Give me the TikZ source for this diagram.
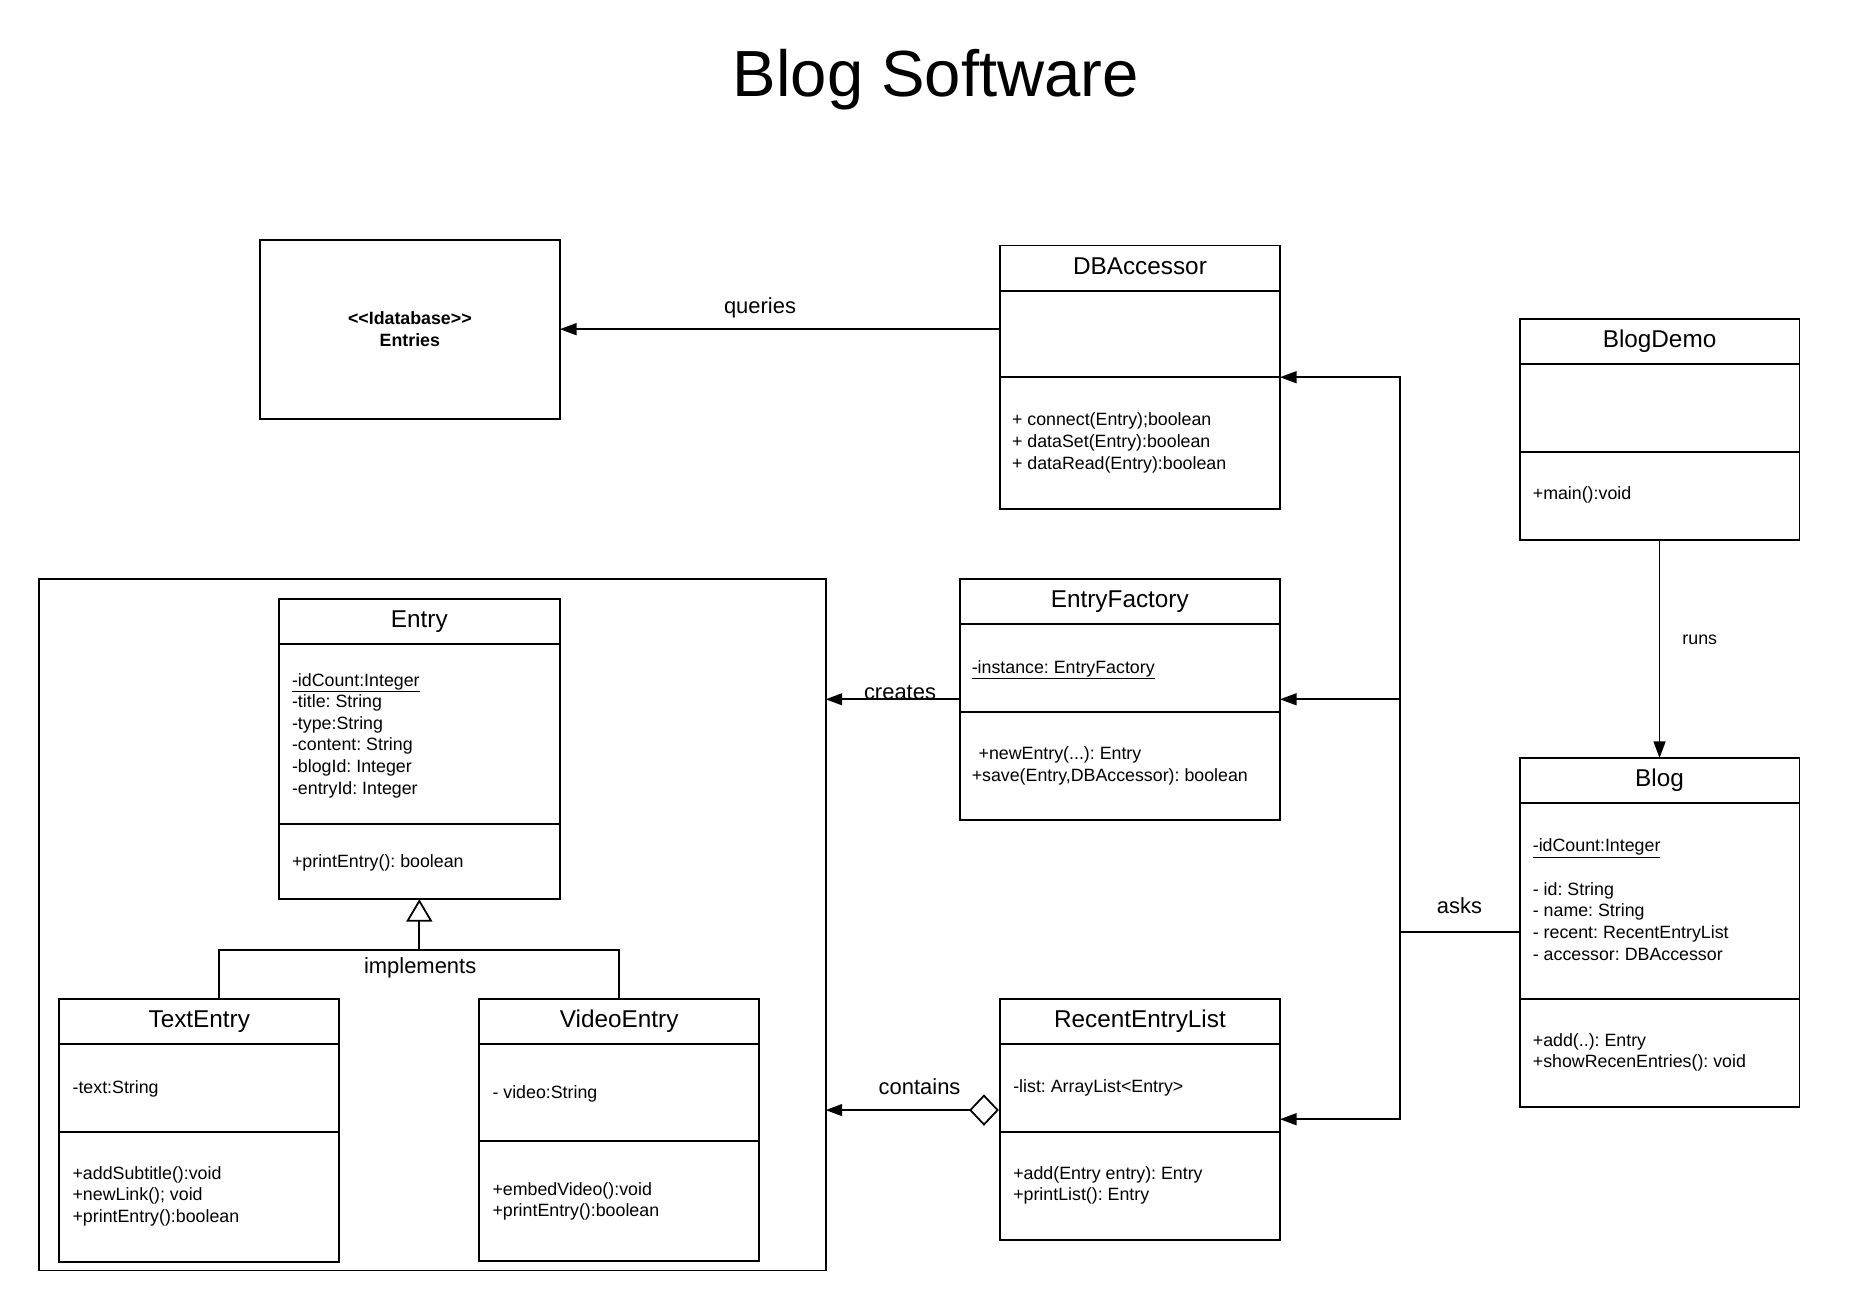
\documentclass[tikz,border=0pt]{standalone}
\usepackage{fontspec}
\setmainfont{Liberation Sans}
\usetikzlibrary{arrows.meta}
\frenchspacing
\tikzset{
  ln/.style={line width=1.6pt},
  cls/.style={draw, line width=1.6pt, inner sep=0pt, outer sep=0pt},
  ctitle/.style={anchor=base, inner sep=0pt, font=\fontsize{20.5}{24}\selectfont},
  txt/.style={anchor=base west, inner sep=0pt, font=\fontsize{15}{18}\selectfont},
  lbl/.style={anchor=base, inner sep=0pt, font=\fontsize{18.5}{22}\selectfont},
  arr/.style={line width=1.5pt, -{Triangle[length=14pt,width=10pt]}},
}
\newcommand\umlclass[7]{%
  \node[cls, minimum width=#4pt, minimum height=#5pt, anchor=north west] (#1) at (#2,#3) {};
  \draw[ln] (#2,#3+38) -- (#2+#4,#3+38);
  \draw[ln] (#2,#6) -- (#2+#4,#6);
  \node[ctitle] (#1-t) at (#2+#4/2,#3+24) {#7};
}
\begin{document}
\frenchspacing
\begin{tikzpicture}[x=1pt,y=-1pt]
\fill[white] (0,0) rectangle (1568,1105);
\useasboundingbox (0,0) rectangle (1568,1105);

% title
\node[anchor=base, inner sep=0pt, font=\fontsize{55}{60}\selectfont] (title) at (789,81.5) {Blog Software};

% database
\node[cls, minimum width=253pt, minimum height=151pt, anchor=north west,
      font=\bfseries\fontsize{15}{18}\selectfont, align=center] (ent) at (219,202)
      {<\kern0pt<Idatabase>\kern0pt>\\Entries};

% package frame
\node[cls, minimum width=663pt, minimum height=583pt, anchor=north west] (pkg) at (33,488) {};

% classes
\umlclass{db}{843}{207}{236}{222}{318}{DBAccessor}
\umlclass{bd}{1281}{269}{236}{186}{381}{BlogDemo}
\umlclass{blog}{1281}{639}{236}{294}{842}{Blog}
\umlclass{ef}{809}{488}{270}{203}{600}{EntryFactory}
\umlclass{rel}{843}{842}{236}{203}{954}{RecentEntryList}
\umlclass{entry}{235}{505}{237}{253}{695}{Entry}
\umlclass{te}{50}{842}{236}{222}{954}{TextEntry}
\umlclass{ve}{404}{842}{236}{221}{962}{VideoEntry}

% DBAccessor
\node[txt] (db1) at (853,359) {+ connect(Entry);boolean};
\node[txt] (db2) at (853,377.5) {+ dataSet(Entry):boolean};
\node[txt] (db3) at (853,395.5) {+ dataRead(Entry):boolean};

% BlogDemo
\node[txt] (bd1) at (1292,421.5) {+main():void};

% Blog
\node[txt] (bl1) at (1292,718) {\underline{-idCount:Integer}};
\node[txt] (bl2) at (1292,754.7) {- id: String};
\node[txt] (bl3) at (1292,773) {- name: String};
\node[txt] (bl4) at (1292,791.3) {- recent: RecentEntryList};
\node[txt] (bl5) at (1292,809.5) {- accessor: DBAccessor};
\node[txt] (bl6) at (1292,882.3) {+add(..): Entry};
\node[txt] (bl7) at (1292,900.3) {+showRecenEntries(): void};

% EntryFactory
\node[txt] (ef1) at (819,567.6) {\underline{-instance: EntryFactory}};
\node[txt] (ef2) at (824.8,640) {+newEntry(...): Entry};
\node[txt] (ef3) at (819,658.4) {+save(Entry,DBAccessor): boolean};

% RecentEntryList
\node[txt] (re1) at (854,921) {-list: ArrayList<Entry>};
\node[txt] (re2) at (854,994.1) {+add(Entry entry): Entry};
\node[txt] (re3) at (854,1012.4) {+printList(): Entry};

% Entry
\node[txt] (en1) at (246,578.3) {\underline{-idCount:Integer}};
\node[txt] (en2) at (246,596.5) {-title: String};
\node[txt] (en3) at (246,614.8) {-type:String};
\node[txt] (en4) at (246,633) {-content: String};
\node[txt] (en5) at (246,651.3) {-blogId: Integer};
\node[txt] (en6) at (246,669.6) {-entryId: Integer};
\node[txt] (en7) at (246,731.1) {+printEntry(): boolean};

% TextEntry
\node[txt] (te1) at (61,921.6) {-text:String};
\node[txt] (te2) at (61,994.1) {+addSubtitle():void};
\node[txt] (te3) at (61,1012.4) {+newLink(); void};
\node[txt] (te4) at (61,1030.7) {+printEntry():boolean};

% VideoEntry
\node[txt] (ve1) at (415,925.9) {- video:String};
\node[txt] (ve2) at (415,1007.4) {+embedVideo():void};
\node[txt] (ve3) at (415,1025.6) {+printEntry():boolean};

% connectors
\coordinate (bus) at (1180,786);
\draw[arr] (blog.west) -- (bus) |- (db.east);
\draw[arr] (bus) |- (ef.east);
\draw[arr] (bus) |- (rel.east);
\draw[arr] (db.west |- ent.east) -- (ent.east);
\draw[arr] (bd.south) -- (blog.north);
\draw[arr] (ef.west) -- (pkg.east |- ef.west);
\coordinate (cy) at (0,935.8);
\draw[line width=1.5pt, {Diamond[open,length=25pt,width=26.5pt]}-{Triangle[length=14pt,width=10pt]}]
  ([xshift=-1pt]rel.west |- cy) -- (pkg.east |- cy);

\coordinate (jn) at (353.5,801);
\coordinate (tej) at ([xshift=16.5pt]te.north);
\draw[line width=1.5pt, -{Triangle[open,length=19pt,width=22pt]}] (jn) -- (entry.south);
\draw[line width=1.5pt] (tej) |- (jn) -| (ve.north);

% labels
\node[lbl] (lq) at (640.7,264.2) {queries};
\node[lbl] (la) at (1230.4,770.5) {asks};
\node[lbl] (li) at (354.2,820.5) {implements};
\node[lbl, font=\fontsize{15}{18}\selectfont] (lr) at (1432.9,543.4) {runs};
\node[lbl] (lc) at (775.2,922.3) {contains};
\node[lbl] (lcr) at (758.7,589.6) {creates};
\end{tikzpicture}
\end{document}
